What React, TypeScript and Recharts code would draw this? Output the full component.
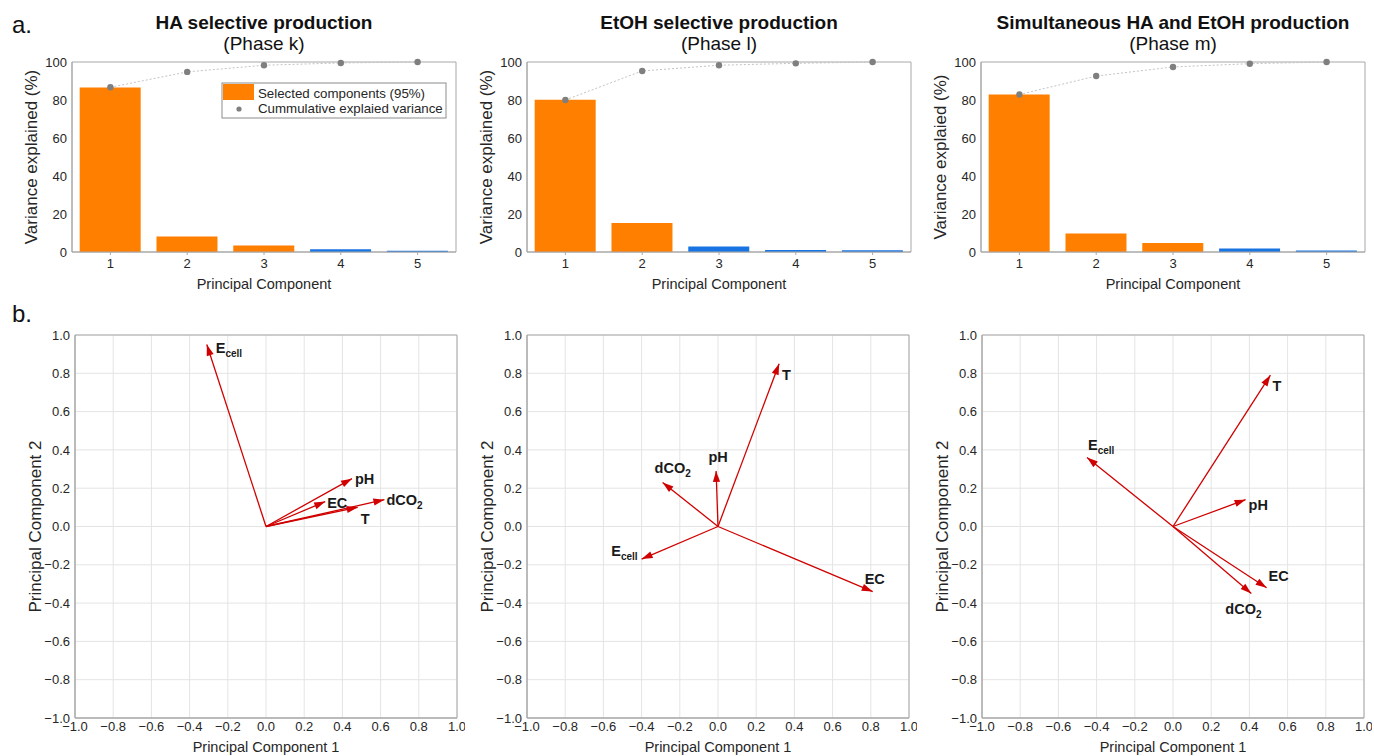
import React from "react";
import {
  ComposedChart,
  Bar,
  Line,
  Cell,
  XAxis,
  YAxis,
  ScatterChart,
  Scatter,
  CartesianGrid,
  ReferenceArea,
} from "recharts";

const FONT = '"Liberation Sans", Arial, Helvetica, sans-serif';
const ORANGE = "#FF7F00";
const BLUE = "#1874E2";
const ARROW = "#D00000";
const FRAME = "#A8A8A8";
const GRID = "#E4E4E4";
const DOT = "#7F7F7F";
const INK = "#262626";

// scree data
const components = ["1", "2", "3", "4", "5"];
const varianceTicks = [0, 20, 40, 60, 80, 100];

const haVariance = [86.6, 8.1, 3.4, 1.4, 0.6];
const haCumulative = [86.7, 94.8, 98.3, 99.5, 100];
const haSelected = 3;

const etohVariance = [80.1, 15.2, 2.9, 1.0, 0.9];
const etohCumulative = [80.0, 95.3, 98.3, 99.3, 100];
const etohSelected = 2;

const simVariance = [82.9, 9.7, 4.8, 1.8, 0.8];
const simCumulative = [82.9, 92.6, 97.4, 99.1, 100];
const simSelected = 3;

// loadings
const variables = ["Ecell", "pH", "EC", "dCO2", "T"];
const loadingTicks = [-1, -0.8, -0.6, -0.4, -0.2, 0, 0.2, 0.4, 0.6, 0.8, 1];

const haPC1 = [-0.31, 0.45, 0.31, 0.62, 0.48];
const haPC2 = [0.95, 0.25, 0.13, 0.14, 0.1];
const etohPC1 = [-0.4, -0.01, 0.81, -0.29, 0.32];
const etohPC2 = [-0.17, 0.29, -0.34, 0.23, 0.85];
const simPC1 = [-0.45, 0.38, 0.49, 0.41, 0.51];
const simPC2 = [0.36, 0.14, -0.32, -0.35, 0.79];

type Spot = { dx: number; dy: number; anchor: "start" | "middle" | "end" };

// where each variable name sits relative to its arrow tip (px)
const haSpots: Spot[] = [
  { dx: 9, dy: 8, anchor: "start" },
  { dx: 3, dy: 5, anchor: "start" },
  { dx: 2, dy: 6, anchor: "start" },
  { dx: 2, dy: 5, anchor: "start" },
  { dx: 3, dy: 17, anchor: "start" },
];
const etohSpots: Spot[] = [
  { dx: -4, dy: -3, anchor: "end" },
  { dx: 2, dy: -9, anchor: "middle" },
  { dx: -8, dy: -8, anchor: "start" },
  { dx: -8, dy: -9, anchor: "start" },
  { dx: 3, dy: 16, anchor: "start" },
];
const simSpots: Spot[] = [
  { dx: 1, dy: -8, anchor: "start" },
  { dx: 3, dy: 10, anchor: "start" },
  { dx: 2, dy: -7, anchor: "start" },
  { dx: -26, dy: 20, anchor: "start" },
  { dx: 2, dy: 16, anchor: "start" },
];

const fmtLoading = (v: number) => {
  const s = Math.abs(v) < 1e-9 ? "0.0" : v.toFixed(1);
  return s.replace("-", "\u2212");
};

const tickStyle = { fontSize: 13, fill: INK, fontFamily: FONT };
const yLabelStyle = {
  fontSize: 17,
  fill: INK,
  fontFamily: FONT,
  textAnchor: "middle",
};

type VarianceProps = {
  left: number;
  title: string;
  phase: string;
  yLabel: string;
  variance: number[];
  cumulative: number[];
  selected: number;
};

const VariancePanel = ({
  left,
  title,
  phase,
  yLabel,
  variance,
  cumulative,
  selected,
}: VarianceProps) => {
  const rows = components.map((pc, i) => ({
    pc,
    variance: variance[i],
    cumulative: cumulative[i],
  }));
  const plotW = 384;
  return (
    <>
      <div
        style={{
          position: "absolute",
          left: left + plotW / 2 - 250,
          width: 500,
          top: 13,
          textAlign: "center",
          fontSize: 19,
          lineHeight: "19px",
          fontWeight: "bold",
          color: "#111",
        }}
      >
        {title}
      </div>
      <div
        style={{
          position: "absolute",
          left: left + plotW / 2 - 250,
          width: 500,
          top: 34,
          textAlign: "center",
          fontSize: 19,
          lineHeight: "19px",
          color: "#111",
        }}
      >
        {phase}
      </div>
      <div style={{ position: "absolute", left: left - 73, top: 0 }}>
        <ComposedChart
          width={73 + plotW + 6}
          height={300}
          data={rows}
          margin={{ top: 62, right: 6, bottom: 8, left: 8 }}
        >
          <XAxis
            dataKey="pc"
            height={40}
            stroke={FRAME}
            tickLine={{ stroke: FRAME }}
            tickSize={3}
            tickMargin={4}
            tick={tickStyle}
            label={{
              value: "Principal Component",
              position: "insideBottom",
              offset: 3,
              style: { fontSize: 14.5, fill: INK, fontFamily: FONT },
            }}
          />
          <YAxis
            width={65}
            domain={[0, 100]}
            ticks={varianceTicks}
            stroke={FRAME}
            tickLine={false}
            tickSize={2}
            tickMargin={3}
            tick={tickStyle}
            label={{
              value: yLabel,
              angle: -90,
              position: "insideLeft",
              offset: 24,
              style: yLabelStyle,
            }}
          />
          <ReferenceArea
            y1={0}
            y2={100}
            fill="none"
            stroke={FRAME}
            strokeWidth={1}
          />
          <Bar dataKey="variance" barCategoryGap="10%" isAnimationActive={false}>
            {rows.map((r, i) => (
              <Cell key={r.pc} fill={i < selected ? ORANGE : BLUE} />
            ))}
          </Bar>
          <Line
            dataKey="cumulative"
            type="linear"
            stroke="#C4C4C4"
            strokeWidth={1}
            strokeDasharray="2 2"
            dot={{ r: 3.2, fill: DOT, stroke: "none" }}
            activeDot={false}
            isAnimationActive={false}
          />
        </ComposedChart>
      </div>
    </>
  );
};

const VarName = ({
  name,
  x,
  y,
  anchor,
}: {
  name: string;
  x: number;
  y: number;
  anchor: string;
}) => {
  const parts =
    name === "Ecell"
      ? ["E", "cell"]
      : name === "dCO2"
      ? ["dCO", "2"]
      : [name, ""];
  return (
    <text
      x={x}
      y={y}
      textAnchor={anchor}
      fontFamily={FONT}
      fontWeight="bold"
      fontSize={14.5}
      fill="#1a1a1a"
    >
      {parts[0]}
      {parts[1] && (
        <tspan fontSize={10} dy={4}>
          {parts[1]}
        </tspan>
      )}
    </text>
  );
};

const ArrowTip = (props: any) => {
  const { cx, cy, payload, name, spot } = props;
  if (!payload || payload.origin || cx == null) return <g />;
  const ang = Math.atan2(-payload.y, payload.x);
  const len = 11;
  const half = 3.6;
  const bx = cx - len * Math.cos(ang);
  const by = cy - len * Math.sin(ang);
  const px = -Math.sin(ang) * half;
  const py = Math.cos(ang) * half;
  return (
    <g>
      <polygon
        points={`${cx},${cy} ${bx + px},${by + py} ${bx - px},${by - py}`}
        fill={ARROW}
      />
      <VarName
        name={name}
        x={cx + spot.dx}
        y={cy + spot.dy}
        anchor={spot.anchor}
      />
    </g>
  );
};

type LoadingProps = {
  left: number;
  pc1: number[];
  pc2: number[];
  spots: Spot[];
};

const LoadingPanel = ({ left, pc1, pc2, spots }: LoadingProps) => {
  const plotW = 382;
  return (
    <div style={{ position: "absolute", left: left - 62, top: 320 }}>
      <ScatterChart
        width={62 + plotW + 8}
        height={436}
        margin={{ top: 15, right: 8, bottom: 2, left: 6 }}
      >
        <CartesianGrid stroke={GRID} />
        <XAxis
          type="number"
          dataKey="x"
          domain={[-1, 1]}
          ticks={loadingTicks}
          tickFormatter={fmtLoading}
          height={36}
          stroke={FRAME}
          tickLine={false}
          tickSize={2}
          tickMargin={2}
          tick={tickStyle}
          interval={0}
          label={{
            value: "Principal Component 1",
            position: "insideBottom",
            offset: 2,
            style: { fontSize: 14.5, fill: INK, fontFamily: FONT },
          }}
        />
        <YAxis
          type="number"
          dataKey="y"
          domain={[-1, 1]}
          ticks={loadingTicks}
          tickFormatter={fmtLoading}
          width={56}
          stroke={FRAME}
          tickLine={false}
          tickSize={2}
          tickMargin={3}
          tick={tickStyle}
          interval={0}
          label={{
            value: "Principal Component 2",
            angle: -90,
            position: "insideLeft",
            offset: 16,
            style: yLabelStyle,
          }}
        />
        <ReferenceArea
          x1={-1}
          x2={1}
          y1={-1}
          y2={1}
          fill="none"
          stroke={FRAME}
          strokeWidth={1}
        />
        {variables.map((v, i) => (
          <Scatter
            key={v}
            data={[
              { x: 0, y: 0, origin: true },
              { x: pc1[i], y: pc2[i] },
            ]}
            line={{ stroke: ARROW, strokeWidth: 1.3 }}
            shape={(p: any) => <ArrowTip {...p} name={v} spot={spots[i]} />}
            isAnimationActive={false}
          />
        ))}
      </ScatterChart>
    </div>
  );
};

const ScreeLegend = () => (
  <svg
    width={226}
    height={37}
    style={{ position: "absolute", left: 221, top: 82 }}
  >
    <rect x={1} y={1} width={224} height={35} fill="#fff" stroke="#8C8C8C" />
    <rect x={2} y={2} width={31} height={16} fill={ORANGE} />
    <circle cx={18} cy={27} r={2.6} fill={DOT} />
    <text x={37} y={15.5} fontSize={13.3} fill={INK} fontFamily={FONT}>
      Selected components (95%)
    </text>
    <text x={37} y={31} fontSize={13.3} fill={INK} fontFamily={FONT}>
      Cummulative explaied variance
    </text>
  </svg>
);

export default function App() {
  return (
    <div
      style={{
        position: "absolute",
        left: 0,
        top: 0,
        width: 1374,
        height: 756,
        background: "#fff",
        fontFamily: FONT,
        overflow: "hidden",
      }}
    >
      <div
        style={{
          position: "absolute",
          left: 12,
          top: 13,
          fontSize: 24,
          lineHeight: "24px",
          color: "#111",
        }}
      >
        a.
      </div>
      <div
        style={{
          position: "absolute",
          left: 12,
          top: 302,
          fontSize: 24,
          lineHeight: "24px",
          color: "#111",
        }}
      >
        b.
      </div>

      <VariancePanel
        left={72}
        title="HA selective production"
        phase="(Phase k)"
        yLabel="Variance explained (%)"
        variance={haVariance}
        cumulative={haCumulative}
        selected={haSelected}
      />
      <VariancePanel
        left={527}
        title="EtOH selective production"
        phase="(Phase l)"
        yLabel="Variance explained (%)"
        variance={etohVariance}
        cumulative={etohCumulative}
        selected={etohSelected}
      />
      <VariancePanel
        left={981}
        title="Simultaneous HA and EtOH production"
        phase="(Phase m)"
        yLabel="Variance explaied (%)"
        variance={simVariance}
        cumulative={simCumulative}
        selected={simSelected}
      />
      <ScreeLegend />

      <LoadingPanel left={75} pc1={haPC1} pc2={haPC2} spots={haSpots} />
      <LoadingPanel left={527} pc1={etohPC1} pc2={etohPC2} spots={etohSpots} />
      <LoadingPanel left={982} pc1={simPC1} pc2={simPC2} spots={simSpots} />
    </div>
  );
}
